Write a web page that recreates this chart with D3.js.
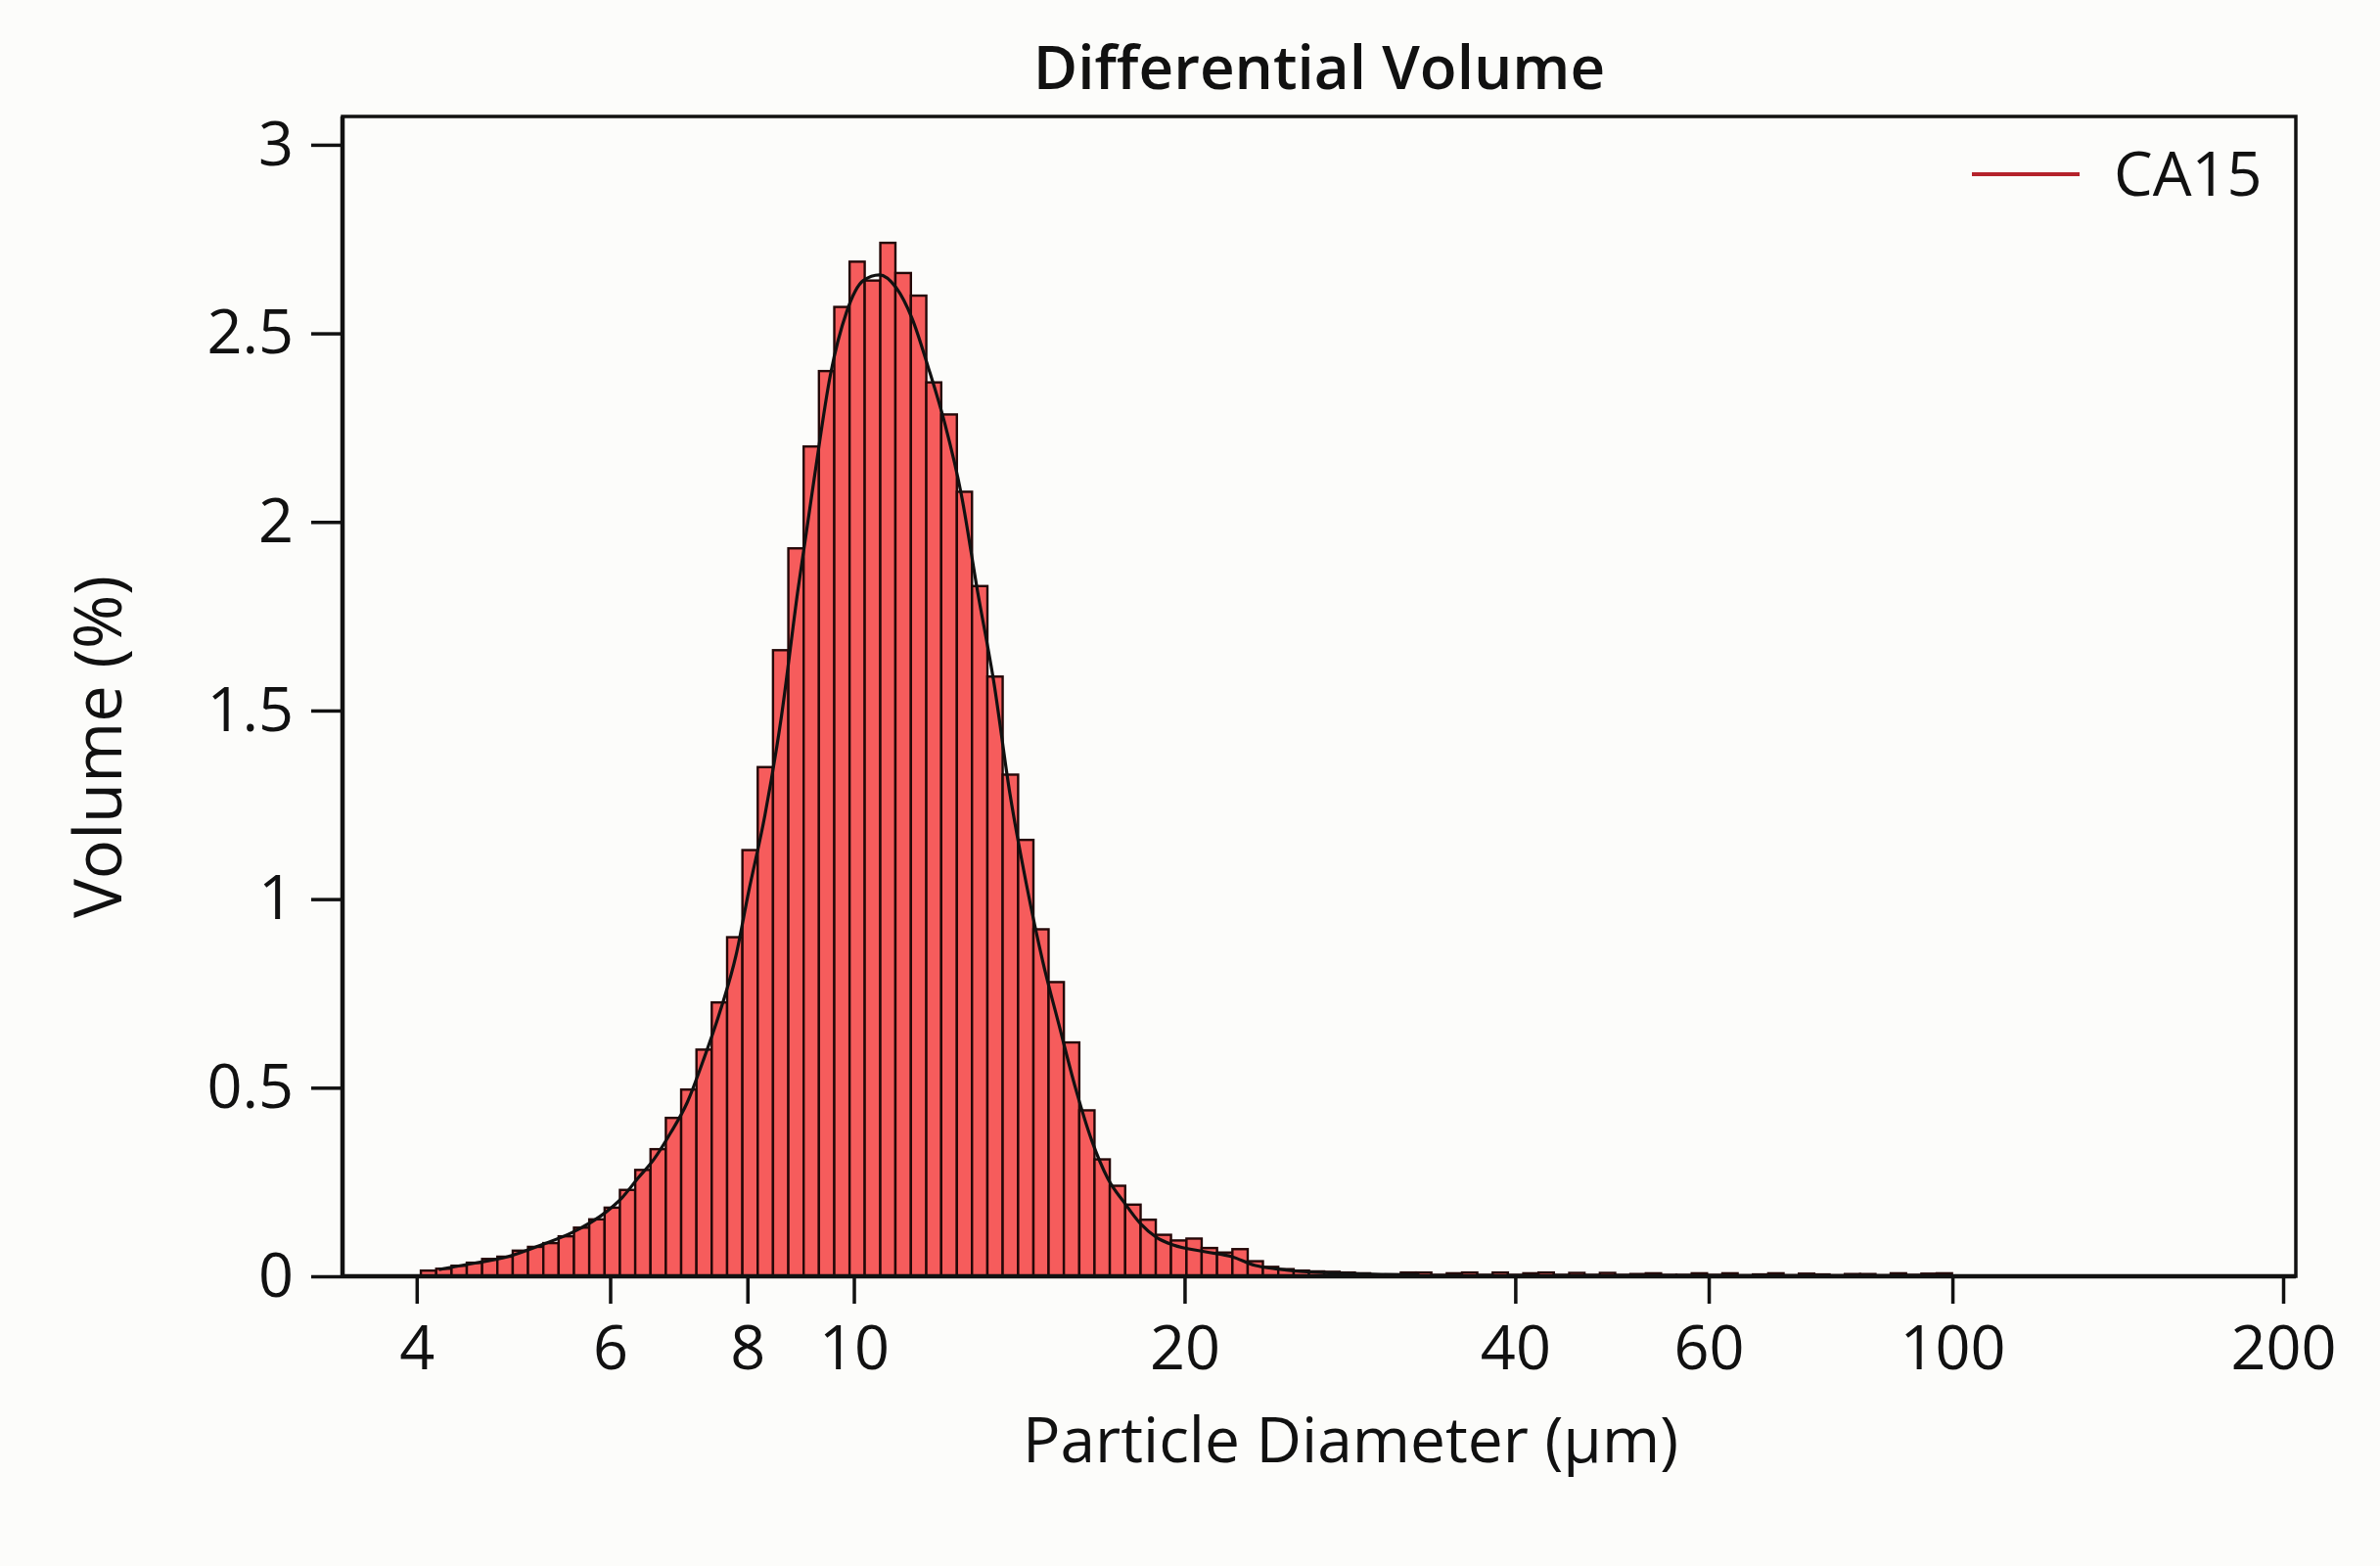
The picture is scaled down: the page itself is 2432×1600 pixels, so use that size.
<!DOCTYPE html>
<html>
<head>
<meta charset="utf-8">
<title>Differential Volume</title>
<script src="https://cdn.jsdelivr.net/npm/d3@7/dist/d3.min.js"></script>
<style>
	html, body { margin: 0; padding: 0; background: #fcfcfa; }
	#chart text { font-family: "Open Sans", "Noto Sans", "DejaVu Sans", sans-serif; fill: #111; }
</style>
</head>
<body>
<div id="chart"></div>
<script>
// channel edges (um), one more than the volumes
var binEdges = [
	4.035, 4.167, 4.303, 4.443, 4.588, 4.737, 4.892, 5.051, 5.216, 5.386,
	5.562, 5.743, 5.931, 6.124, 6.324, 6.530, 6.743, 6.963, 7.190, 7.424,
	7.667, 7.917, 8.175, 8.441, 8.717, 9.001, 9.294, 9.598, 9.911, 10.23,
	10.57, 10.91, 11.27, 11.64, 12.01, 12.41, 12.81, 13.23, 13.66, 14.11,
	14.57, 15.04, 15.53, 16.04, 16.56, 17.10, 17.66, 18.24, 18.83, 19.44,
	20.08, 20.73, 21.41, 22.11, 22.83, 23.57, 24.34, 25.14, 25.96, 26.80,
	27.68, 28.58, 29.51, 30.47, 31.47, 32.49, 33.55, 34.65, 35.78, 36.94,
	38.15, 39.39, 40.68, 42.00, 43.37, 44.79, 46.25, 47.76, 49.32, 50.92,
	52.59, 54.30, 56.07, 57.90, 59.79, 61.74, 63.75, 65.83, 67.98, 70.19,
	72.48, 74.85, 77.29, 79.81, 82.41, 85.10, 87.87, 90.74, 93.70, 96.75,
	99.91
];

// CA15 differential volume (%) per channel
var volumes = [
	0.015, 0.020, 0.028, 0.036, 0.046, 0.052, 0.068, 0.078, 0.088, 0.106,
	0.129, 0.151, 0.182, 0.229, 0.282, 0.337, 0.420, 0.495, 0.601, 0.726,
	0.899, 1.13, 1.35, 1.66, 1.93, 2.20, 2.40, 2.57, 2.69, 2.64,
	2.74, 2.66, 2.60, 2.37, 2.285, 2.08, 1.83, 1.59, 1.33, 1.157,
	0.92, 0.78, 0.62, 0.44, 0.31, 0.24, 0.19, 0.15, 0.11, 0.095,
	0.10, 0.075, 0.063, 0.072, 0.040, 0.025, 0.019, 0.015, 0.013, 0.012,
	0.010, 0.008, 0.004, 0.005, 0.010, 0.010, 0.004, 0.008, 0.010, 0.004,
	0.010, 0.004, 0.008, 0.010, 0.004, 0.009, 0.004, 0.009, 0.004, 0.006,
	0.008, 0.004, 0.004, 0.008, 0.004, 0.008, 0.003, 0.005, 0.008, 0.003,
	0.007, 0.005, 0.003, 0.006, 0.006, 0.003, 0.008, 0.004, 0.007, 0.008
];

// smooth fit drawn over the bars
var fitDiameters = [
	4.19, 4.52, 4.84, 5.18, 5.55, 5.94, 6.15, 6.36, 6.58, 6.81,
	7.05, 7.29, 7.55, 7.81, 8.02, 8.30, 8.59, 8.89, 9.20, 9.52,
	9.85, 10.20, 10.55, 10.92, 11.30, 11.69, 12.10, 12.52, 12.96, 13.41,
	13.87, 14.36, 14.86, 15.37, 15.91, 16.46, 17.03, 17.63, 18.24, 18.88,
	19.53, 20.90, 22.09, 23.16, 24.34, 25.46, 28.51, 32.72
];
var fitVolumes = [
	0.018, 0.035, 0.052, 0.082, 0.117, 0.169, 0.208, 0.260, 0.311, 0.380,
	0.460, 0.571, 0.700, 0.850, 1.019, 1.223, 1.483, 1.816, 2.113, 2.390,
	2.557, 2.640, 2.655, 2.622, 2.539, 2.409, 2.261, 2.076, 1.816, 1.575,
	1.279, 1.038, 0.834, 0.667, 0.500, 0.361, 0.259, 0.195, 0.139, 0.102,
	0.083, 0.065, 0.052, 0.029, 0.019, 0.013, 0.007, 0.004
];

var xTickValues = [4, 6, 8, 10, 20, 40, 60, 100, 200];
var yTickValues = [0, 0.5, 1, 1.5, 2, 2.5, 3];
var seriesName = "CA15";

var DiffVolumeChart = (function() {
	"use strict";

	var width = 2432,
		height = 1600,
		left = 350,
		right = 2346,
		top = 119,
		bottom = 1304,
		xScale = d3.scaleLog()
			.domain([3.424, 205.4])
			.range([left, right]),
		yScale = d3.scaleLinear()
			.domain([0, 3.075])
			.range([bottom, top]);

	function create(selector) {
		var svg = d3.select(selector)
			.append("svg")
			.attr("width", width)
			.attr("height", height);

		svg.append("rect")
			.attr("width", width)
			.attr("height", height)
			.attr("fill", "#fcfcfa");

		var bins = volumes.map(function(v, i) {
			return { x0: binEdges[i], x1: binEdges[i + 1], v: v };
		});

		// bars
		svg.append("g")
			.classed("bars", true)
			.selectAll("rect")
			.data(bins)
			.enter()
			.append("rect")
			.attr("x", function(d) { return xScale(d.x0); })
			.attr("width", function(d) { return xScale(d.x1) - xScale(d.x0); })
			.attr("y", function(d) { return yScale(d.v); })
			.attr("height", function(d) { return yScale(0) - yScale(d.v); })
			.attr("fill", "#f65c5c")
			.attr("stroke", "#240808")
			.attr("stroke-width", 2.4);

		// fitted curve
		var fitLine = d3.line()
			.x(function(d) { return xScale(d[0]); })
			.y(function(d) { return yScale(d[1]); })
			.curve(d3.curveMonotoneX);

		svg.append("path")
			.datum(fitDiameters.map(function(d, i) { return [d, fitVolumes[i]]; }))
			.attr("fill", "none")
			.attr("stroke", "#111")
			.attr("stroke-width", 3.2)
			.attr("d", fitLine);

		// frame
		svg.append("rect")
			.attr("x", left)
			.attr("y", top)
			.attr("width", right - left)
			.attr("height", bottom - top)
			.attr("fill", "none")
			.attr("stroke", "#111")
			.attr("stroke-width", 3.5);
		svg.append("line")
			.attr("x1", left)
			.attr("x2", left)
			.attr("y1", top)
			.attr("y2", bottom)
			.attr("stroke", "#111")
			.attr("stroke-width", 4.5);
		svg.append("line")
			.attr("x1", left)
			.attr("x2", right)
			.attr("y1", bottom)
			.attr("y2", bottom)
			.attr("stroke", "#111")
			.attr("stroke-width", 4.5);

		// x axis
		var xAxis = svg.append("g")
			.attr("transform", "translate(0," + bottom + ")")
			.call(d3.axisBottom(xScale)
				.tickValues(xTickValues)
				.tickFormat(d3.format("d"))
				.tickSize(28)
				.tickPadding(22));
		xAxis.select(".domain").remove();
		xAxis.selectAll(".tick line").attr("stroke", "#111").attr("stroke-width", 3.5);
		xAxis.selectAll(".tick text")
			.attr("font-size", 63)
			.attr("font-weight", 500)
			.attr("fill", "#111");

		// y axis
		var yAxis = svg.append("g")
			.attr("transform", "translate(" + left + ",0)")
			.call(d3.axisLeft(yScale)
				.tickValues(yTickValues)
				.tickFormat(d3.format("~g"))
				.tickSize(32)
				.tickPadding(18));
		yAxis.select(".domain").remove();
		yAxis.selectAll(".tick line").attr("stroke", "#111").attr("stroke-width", 3.5);
		yAxis.selectAll(".tick text")
			.attr("font-size", 63)
			.attr("font-weight", 500)
			.attr("fill", "#111");

		// titles
		svg.append("text")
			.attr("x", (left + right) / 2)
			.attr("y", 91)
			.attr("text-anchor", "middle")
			.attr("font-size", 62)
			.attr("font-weight", 600)
			.text("Differential Volume");

		svg.append("text")
			.attr("x", 1380)
			.attr("y", 1494)
			.attr("text-anchor", "middle")
			.attr("font-size", 64)
			.attr("font-weight", 500)
			.text("Particle Diameter (\u03bcm)");

		svg.append("text")
			.attr("transform", "translate(124,763) rotate(-90)")
			.attr("text-anchor", "middle")
			.attr("font-size", 67)
			.attr("font-weight", 500)
			.text("Volume (%)");

		// legend
		var legend = svg.append("g")
			.attr("transform", "translate(2015,178)");
		legend.append("line")
			.attr("x1", 0)
			.attr("x2", 110)
			.attr("stroke", "#b5232b")
			.attr("stroke-width", 4);
		legend.append("text")
			.attr("x", 145)
			.attr("dy", "0.35em")
			.attr("font-size", 63)
			.attr("font-weight", 500)
			.text(seriesName);
	}

	return {
		create : create
	};

})();

DiffVolumeChart.create("#chart");
</script>
</body>
</html>
